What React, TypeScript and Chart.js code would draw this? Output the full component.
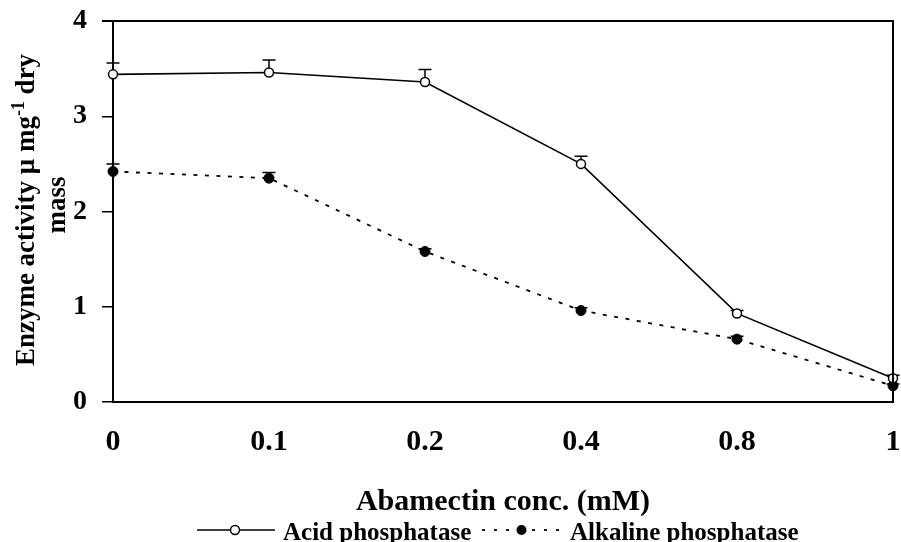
import React, { useEffect, useRef } from 'react';
import Chart from 'chart.js/auto';

const categories = ['0', '0.1', '0.2', '0.4', '0.8', '1'];
const acidValues = [3.44, 3.46, 3.36, 2.5, 0.93, 0.25];
const acidErrors = [0.12, 0.13, 0.13, 0.08, 0.03, 0.03];
const alkalineValues = [2.42, 2.35, 1.58, 0.96, 0.66, 0.17];
const alkalineErrors = [0.08, 0.06, 0.03, 0.03, 0.03, 0.02];
const yTicks = [0, 1, 2, 3, 4];
const seriesNames = ['Acid phosphatase', 'Alkaline phosphatase'];
const xTitle = 'Abamectin conc. (mM)';
const yTitleLine1 = ['Enzyme activity μ mg', '-1', ' dry'];
const yTitleLine2 = 'mass';

const FONT = '"Liberation Serif", "Times New Roman", serif';

const decorPlugin = {
  id: 'decor',
  beforeDatasetsDraw(chart: any) {
    const ctx = chart.ctx;
    const yScale = chart.scales.y;
    ctx.save();
    ctx.strokeStyle = '#000';
    ctx.lineWidth = 1.5;
    chart.data.datasets.forEach((ds: any, i: number) => {
      const meta = chart.getDatasetMeta(i);
      meta.data.forEach((pt: any, j: number) => {
        const err = ds.errors[j];
        const v = ds.data[j];
        const yTop = yScale.getPixelForValue(v + err);
        ctx.beginPath();
        ctx.moveTo(pt.x, pt.y);
        ctx.lineTo(pt.x, yTop);
        ctx.moveTo(pt.x - 6.5, yTop);
        ctx.lineTo(pt.x + 6.5, yTop);
        ctx.stroke();
      });
    });
    ctx.restore();
  },
  afterDraw(chart: any) {
    const ctx = chart.ctx;
    const a = chart.chartArea;
    ctx.save();
    // frame top & right
    ctx.strokeStyle = '#000';
    ctx.lineWidth = 2;
    ctx.beginPath();
    ctx.moveTo(a.left - 11, a.top);
    ctx.lineTo(a.right, a.top);
    ctx.lineTo(a.right, a.bottom);
    ctx.stroke();

    // x title
    ctx.fillStyle = '#000';
    ctx.font = `bold 30px ${FONT}`;
    ctx.textAlign = 'center';
    ctx.textBaseline = 'alphabetic';
    ctx.fillText(xTitle, (a.left + a.right) / 2, 510);

    // y title
    const big = `bold 27px ${FONT}`;
    const small = `bold 18px ${FONT}`;
    ctx.font = big;
    const w0 = ctx.measureText(yTitleLine1[0]).width;
    const w2 = ctx.measureText(yTitleLine1[2]).width;
    ctx.font = small;
    const w1 = ctx.measureText(yTitleLine1[1]).width;
    const total = w0 + w1 + w2;
    ctx.save();
    ctx.translate(34, 210);
    ctx.rotate(-Math.PI / 2);
    ctx.textAlign = 'left';
    let x = -total / 2;
    ctx.font = big;
    ctx.fillText(yTitleLine1[0], x, 0);
    x += w0;
    ctx.font = small;
    ctx.fillText(yTitleLine1[1], x, -10);
    x += w1;
    ctx.font = big;
    ctx.fillText(yTitleLine1[2], x, 0);
    ctx.restore();
    ctx.save();
    ctx.translate(65, 205);
    ctx.rotate(-Math.PI / 2);
    ctx.textAlign = 'center';
    ctx.font = big;
    ctx.fillText(yTitleLine2, 0, 0);
    ctx.restore();

    // legend
    const ly = 530;
    ctx.lineWidth = 1.5;
    ctx.strokeStyle = '#000';
    ctx.beginPath();
    ctx.moveTo(197, ly);
    ctx.lineTo(275, ly);
    ctx.stroke();
    ctx.beginPath();
    ctx.arc(235, ly, 4.5, 0, Math.PI * 2);
    ctx.fillStyle = '#fff';
    ctx.fill();
    ctx.stroke();
    ctx.lineWidth = 1.8;
    [482, 494, 506, 532, 544, 556].forEach((dx) => {
      ctx.beginPath();
      ctx.moveTo(dx, ly);
      ctx.lineTo(dx + 3, ly);
      ctx.stroke();
    });
    ctx.beginPath();
    ctx.arc(521.5, ly, 5, 0, Math.PI * 2);
    ctx.fillStyle = '#000';
    ctx.fill();
    ctx.font = `bold 25px ${FONT}`;
    ctx.textAlign = 'left';
    ctx.textBaseline = 'alphabetic';
    ctx.fillText(seriesNames[0], 283, 540);
    ctx.fillText(seriesNames[1], 570, 540);
    ctx.restore();
  },
};

export default function App() {
  const ref = useRef<HTMLCanvasElement>(null);
  useEffect(() => {
    if (!ref.current) return;
    const chart = new Chart(ref.current, {
      type: 'line',
      data: {
        labels: categories,
        datasets: [
          {
            label: seriesNames[0],
            data: acidValues,
            errors: acidErrors,
            borderColor: '#000',
            borderWidth: 1.6,
            pointRadius: 4.5,
            pointBorderWidth: 1.5,
            pointBackgroundColor: '#fff',
            pointBorderColor: '#000',
            tension: 0,
            clip: false,
          } as any,
          {
            label: seriesNames[1],
            data: alkalineValues,
            errors: alkalineErrors,
            borderColor: '#000',
            borderWidth: 1.8,
            borderDash: [4, 7.5],
            pointRadius: 5,
            pointBorderWidth: 1,
            pointBackgroundColor: '#000',
            pointBorderColor: '#000',
            tension: 0,
            clip: false,
          } as any,
        ],
      },
      options: {
        responsive: false,
        animation: false,
        layout: { padding: { top: 21, right: 8, left: 0, bottom: 0 } },
        plugins: { legend: { display: false }, tooltip: { enabled: false } },
        scales: {
          x: {
            type: 'category',
            offset: false,
            grid: { display: false, drawTicks: false },
            border: { display: true, color: '#000', width: 2 },
            ticks: {
              color: '#000',
              font: { family: FONT, size: 30, weight: 'bold' },
              padding: 22,
              maxRotation: 0,
              autoSkip: false,
            },
            afterFit: (s: any) => {
              s.height = 140;
              s.paddingLeft = 0;
              s.paddingRight = 0;
            },
          },
          y: {
            min: 0,
            max: 4,
            afterBuildTicks: (s: any) => {
              s.ticks = yTicks.map((v) => ({ value: v }));
            },
            grid: {
              drawOnChartArea: false,
              drawTicks: true,
              tickLength: 11,
              color: '#000',
              lineWidth: 1.5,
            },
            border: { display: true, color: '#000', width: 2 },
            ticks: {
              color: '#000',
              font: { family: FONT, size: 28, weight: 'bold' },
              padding: 15,
            },
            afterFit: (s: any) => {
              s.width = 113;
              s.paddingTop = 0;
              s.paddingBottom = 0;
            },
          },
        },
      } as any,
      plugins: [decorPlugin],
    });
    return () => chart.destroy();
  }, []);
  return (
    <div style={{ position: 'fixed', left: 0, top: 0, width: 901, height: 542, background: '#fff' }}>
      <canvas ref={ref} width={901} height={542} />
    </div>
  );
}
